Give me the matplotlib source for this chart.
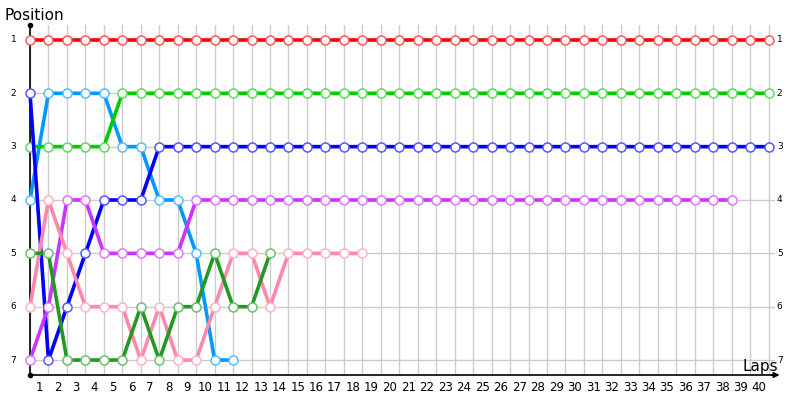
import numpy as np
import matplotlib
matplotlib.use("Agg")
from matplotlib import pyplot as plt
from matplotlib.colors import to_rgb

laps = list(range(41))

red = [1] * 41
light_blue = [4, 2, 2, 2, 2, 3, 3, 4, 4, 5, 7, 7]
green = [3, 3, 3, 3, 3, 2] + [2] * 35
blue = [2, 7, 6, 5, 4, 4, 4, 3] + [3] * 33
purple = [7, 6, 4, 4, 5, 5, 5, 5, 5, 4] + [4] * 29
pink = [6, 4, 5, 6, 6, 6, 7, 6, 7, 7, 6, 5, 5, 6, 5, 5, 5, 5, 5]
dark_green = [5, 5, 7, 7, 7, 7, 6, 7, 6, 6, 5, 6, 6, 5]

series = [
    (red, "#ff0000"),
    (light_blue, "#0099ff"),
    (green, "#00cc00"),
    (blue, "#0000ff"),
    (purple, "#cc33ff"),
    (pink, "#ff88aa"),
    (dark_green, "#229922"),
]

positions = [1, 2, 3, 4, 5, 6, 7]


def lighter(c, f=0.35):
    r, g, b = to_rgb(c)
    return (r + (1 - r) * f, g + (1 - g) * f, b + (1 - b) * f)


fig = plt.figure(figsize=(8, 4), dpi=100)
ax = fig.add_axes([30 / 800, 25 / 400, 745 / 800, 350 / 400])

for vals, col in series:
    x = laps[:len(vals)]
    ax.plot(x, vals, color=col, lw=2.6, zorder=3, clip_on=False,
            marker="o", ms=6.5, mfc="white", mec=lighter(col), mew=1.1)

ax.set_xlim(0, 40.35)
ax.set_ylim(7.28, 0.72)

ax.set_xticks(laps, minor=False)
ax.set_xticklabels([])
ax.set_yticks(positions)
ax.set_yticklabels([])
ax.grid(True, color="#cccccc", lw=1, zorder=0)
ax.tick_params(length=0)

for s in ["top", "right"]:
    ax.spines[s].set_visible(False)
ax.spines["left"].set_color("black")
ax.spines["bottom"].set_color("black")
ax.spines["left"].set_linewidth(1.2)
ax.spines["bottom"].set_linewidth(1.2)
ax.spines["left"].set_zorder(2)

# lap labels sit between grid lines
for k in range(1, 41):
    ax.text(k - 0.5, 7.52, str(k), ha="center", va="center",
            fontsize=8.5, family="DejaVu Sans", clip_on=False)

for p in positions:
    ax.text(-0.9, p, str(p), ha="center", va="center", fontsize=6.5,
            clip_on=False)
    ax.text(40.45, p, str(p), ha="left", va="center", fontsize=6.5,
            clip_on=False)

# axis ends
ax.plot([0], [0.72], marker="o", ms=3, color="black", clip_on=False, zorder=5)
ax.plot([0], [7.28], marker="o", ms=3, color="black", clip_on=False, zorder=5)
ax.annotate("", xy=(40.75, 7.28), xytext=(40.0, 7.28),
            arrowprops=dict(arrowstyle="-|>", color="black", lw=1.2,
                            mutation_scale=8),
            annotation_clip=False)

fig.text(5 / 800, 1 - 15 / 400, "Position", fontsize=11, va="center",
         ha="left")
fig.text(742 / 800, 1 - 366 / 400, "Laps", fontsize=11, va="center",
         ha="left")

fig.savefig("out.png", dpi=100)
